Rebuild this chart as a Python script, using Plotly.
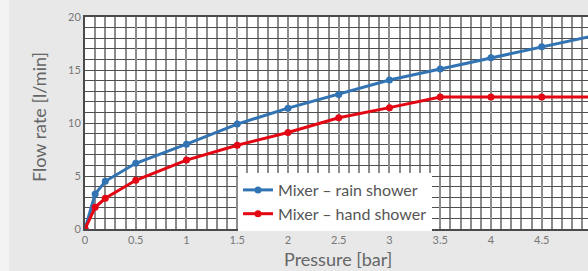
import plotly.graph_objects as go

pressure = [0, 0.1, 0.2, 0.5, 1, 1.5, 2, 2.5, 3, 3.5, 4, 4.5, 5]
rain_shower = [0, 3.3, 4.5, 6.2, 8.0, 9.9, 11.4, 12.7, 14.05, 15.1, 16.15, 17.2, 18.2]
hand_shower = [0, 2.05, 2.9, 4.6, 6.5, 7.9, 9.1, 10.5, 11.45, 12.45, 12.45, 12.45, 12.45]
x_ticks = [0, 0.5, 1, 1.5, 2, 2.5, 3, 3.5, 4, 4.5]
x_labels = ["0", "0.5", "1", "1.5", "2", "2.5", "3", "3.5", "4", "4.5"]
y_ticks = [0, 5, 10, 15, 20]
x_title = "Pressure [bar]"
y_title = "Flow rate [l/min]"

BLUE = "#3274b3"
RED = "#e30613"
FONT = "Lato"
W, H = 588, 271
L, R, T, B = 85, 0, 17, 42
PW, PH = W - L - R, H - T - B

fig = go.Figure()
fig.add_trace(go.Scatter(x=pressure, y=rain_shower, mode="lines+markers",
                         name="Mixer – rain shower",
                         line=dict(color=BLUE, width=3),
                         marker=dict(color=BLUE, size=7)))
fig.add_trace(go.Scatter(x=pressure, y=hand_shower, mode="lines+markers",
                         name="Mixer – hand shower",
                         line=dict(color=RED, width=3),
                         marker=dict(color=RED, size=7)))

fig.update_layout(
    width=W, height=H,
    margin=dict(l=L, r=R, t=T, b=B, autoexpand=False),
    paper_bgcolor="#e8e8e8",
    plot_bgcolor="white",
    font=dict(family=FONT, color="#666"),
    showlegend=True,
    legend=dict(x=(238 - L) / PW, y=(229 - 173) / PH, xanchor="left", yanchor="top",
                bgcolor="white", font=dict(size=16, color="#555"),
                borderwidth=0, tracegroupgap=0, itemwidth=30),
    xaxis=dict(range=[0, 4.956], tickvals=x_ticks, ticktext=x_labels,
               automargin=False,
               showgrid=True, gridcolor="#8c8c8c", gridwidth=1.5,
               minor=dict(dtick=0.1, tick0=0, showgrid=True,
                          gridcolor="#8c8c8c", gridwidth=1.5),
               showline=True, linecolor="#4a4a4a", linewidth=2, mirror=True,
               ticks="", tickfont=dict(size=11, color="#777"),
               zeroline=False),
    yaxis=dict(range=[0, 20], tickvals=y_ticks,
               automargin=False,
               showgrid=True, gridcolor="#505050", gridwidth=1,
               minor=dict(dtick=1, tick0=0, showgrid=True,
                          gridcolor="#505050", gridwidth=1),
               showline=True, linecolor="#4a4a4a", linewidth=2, mirror=False,
               ticks="", tickfont=dict(size=11, color="#777"),
               zeroline=False),
    annotations=[
        dict(text=x_title, xref="paper", yref="paper",
             x=(338 - L) / PW, y=-30 / PH, xanchor="center", yanchor="middle",
             showarrow=False, font=dict(size=18, color="#666")),
        dict(text=y_title, xref="paper", yref="paper", textangle=-90,
             x=(39 - L) / PW, y=(229 - 117) / PH, xanchor="center", yanchor="middle",
             showarrow=False, font=dict(size=18, color="#666")),
    ],
    shapes=[dict(type="rect", xref="paper", yref="paper",
                 x0=-L / PW, x1=(9 - L) / PW, y0=-B / PH, y1=1 + T / PH,
                 fillcolor="#f3f3f3", line=dict(width=0), layer="below")],
)

fig.write_html("out.html",
               config={"displayModeBar": False},
               post_script="document.body.style.margin='0';"
                           "document.body.style.background='#e8e8e8';")
